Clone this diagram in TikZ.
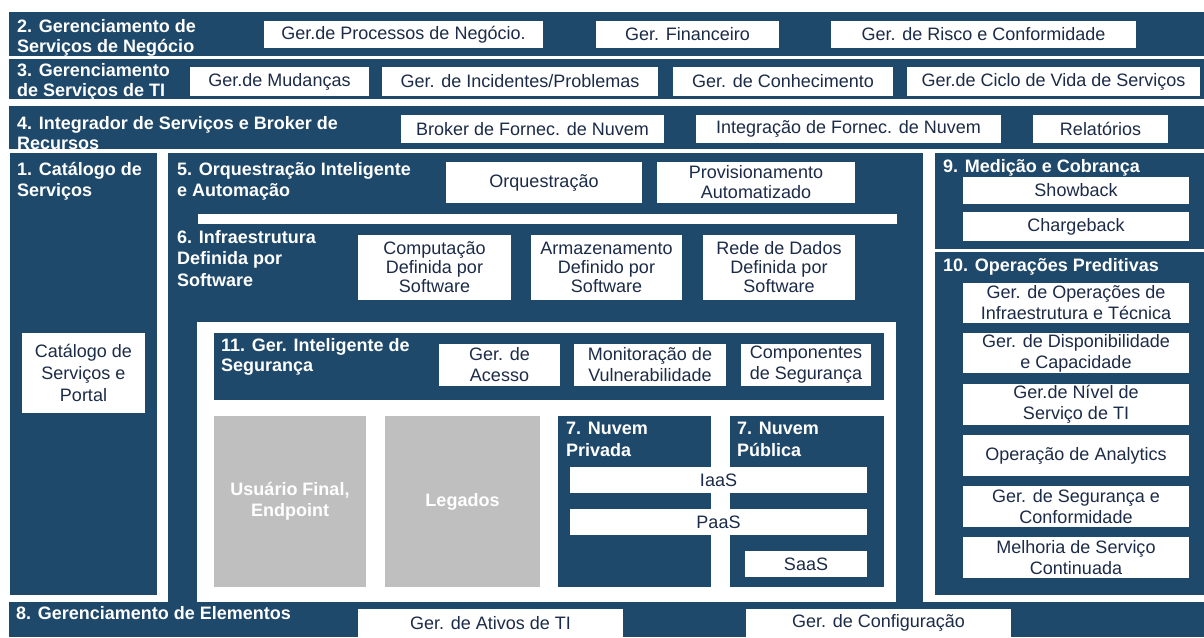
\documentclass[tikz,border=0pt]{standalone}
\usepackage{fontspec}
\setmainfont{Liberation Sans}

\definecolor{navy}{HTML}{1F496B}
\definecolor{itemtext}{HTML}{1C2B47}
\definecolor{graybox}{HTML}{BFBFBF}

\begin{document}
\begin{tikzpicture}[x=1pt,y=-1pt]

        \tikzset{layer/.style = {rectangle, fill=navy, inner sep=0pt}, }
        \tikzset{item/.style = {rectangle, fill=white, text=itemtext, align=center, inner sep=0pt, font=\fontsize{18}{20}\selectfont}, }
        \tikzset{title/.style = {anchor=north west, text=white, align=left, inner sep=0pt, font=\fontsize{18}{20}\selectfont\bfseries}, }
        \tikzset{oldsys/.style = {rectangle, fill=graybox, text=white, align=center, inner sep=0pt, font=\fontsize{18}{21}\selectfont\bfseries}, }
        \tikzset{wh/.style 2 args = {minimum width=#1pt, minimum height=#2pt}, }

        \useasboundingbox (0,0) rectangle (1204,637);

        % layers
        \node[layer, wh={1195}{44}] (L2) at (606.5,34) {};
        \node[layer, wh={1195}{40}] (L3) at (606.5,79) {};
        \node[layer, wh={1195}{43}] (L4) at (606.5,127.5) {};
        \node[layer, wh={147}{442}] (L1) at (83.5,374) {};
        \node[layer, wh={755}{449}] (L56) at (545.5,377.5) {};
        \node[layer, wh={269}{96}] (L9) at (1069.5,201) {};
        \node[layer, wh={269}{343}] (L10) at (1069.5,423.5) {};
        \node[layer, wh={1195}{35}] (L8) at (606.5,619.5) {};

        % 2
        \node[title] (T2) at (17,19) {2. Gerenciamento de\\Serviços de Negócio};
        \node[item, wh={279}{27}] (BPN) at (403.5,34.5) {Ger.de Processos de Negócio.};
        \node[item, wh={183}{27}] (GFin) at (687.5,34.5) {Ger. Financeiro};
        \node[item, wh={305}{27}] (GRisco) at (983.5,34.5) {Ger. de Risco e Conformidade};

        % 3
        \node[title] (T3) at (17,63) {3. Gerenciamento\\de Serviços de TI};
        \node[item, wh={179}{29}] (GMud) at (279.5,81.5) {Ger.de Mudanças};
        \node[item, wh={276}{29}] (GInc) at (520,81.5) {Ger. de Incidentes/Problemas};
        \node[item, wh={220}{29}] (GCon) at (783,81.5) {Ger. de Conhecimento};
        \node[item, wh={293}{29}] (GCiclo) at (1053.5,81.5) {Ger.de Ciclo de Vida de Serviços};

        % 4
        \node[title] (T4) at (17,116) {4. Integrador de Serviços e Broker de\\Recursos};
        \node[item, wh={263}{28}] (Broker) at (532.5,129) {Broker de Fornec. de Nuvem};
        \node[item, wh={305}{28}] (Integ) at (848.5,129) {Integração de Fornec. de Nuvem};
        \node[item, wh={135}{28}] (Rel) at (1100.5,129) {Relatórios};

        % 1
        \node[title, font=\fontsize{18}{21}\selectfont\bfseries] (T1) at (17,162) {1. Catálogo de\\Serviços};
        \node[item, wh={123}{80}, font=\fontsize{18}{22}\selectfont] (Cat) at (83.5,373) {Catálogo de\\Serviços e\\Portal};

        % 5 e 6
        \node[title, font=\fontsize{18}{21}\selectfont\bfseries] (T5) at (177,162) {5. Orquestração Inteligente\\e Automação};
        \node[item, wh={196}{41}] (Orq) at (544,182.5) {Orquestração};
        \node[item, wh={198}{41}] (Prov) at (756,182.5) {Provisionamento\\Automatizado};
        \node[fill=white, inner sep=0pt, wh={699}{10}] (bar56) at (547.5,219) {};
        \node[title, font=\fontsize{18}{21.5}\selectfont\bfseries] (T6) at (177,230) {6. Infraestrutura\\Definida por\\Software};
        \node[item, wh={153}{65}, font=\fontsize{18}{19}\selectfont] (SDC) at (434.5,267.5) {Computação\\Definida por\\Software};
        \node[item, wh={151}{65}, font=\fontsize{18}{19}\selectfont] (SDS) at (606.5,267.5) {Armazenamento\\Definido por\\Software};
        \node[item, wh={152}{65}, font=\fontsize{18}{19}\selectfont] (SDN) at (779,267.5) {Rede de Dados\\Definida por\\Software};
        \node[fill=white, inner sep=0pt, wh={699}{280}] (frame6) at (546.5,462) {};

        % 11
        \node[layer, wh={670}{67}] (L11) at (549,366.5) {};
        \node[title] (T11) at (221,338) {11. Ger. Inteligente de\\Segurança};
        \node[item, wh={121}{42}, font=\fontsize{18}{21}\selectfont] (Acesso) at (499.5,365) {Ger. de\\Acesso};
        \node[item, wh={152}{42}, font=\fontsize{18}{21}\selectfont] (Vuln) at (650,365) {Monitoração de\\Vulnerabilidade};
        \node[item, wh={130}{42}, font=\fontsize{18}{21}\selectfont] (CompSeg) at (806,365) {Componentes\\de Segurança};

        % legados e nuvens
        \node[oldsys, wh={152}{171}] (User) at (290,501.5) {Usuário Final,\\Endpoint};
        \node[oldsys, wh={155}{171}] (Leg) at (462.5,501.5) {Legados};
        \node[layer, wh={153}{171}] (L7a) at (634.5,501.5) {};
        \node[layer, wh={154}{171}] (L7b) at (807,501.5) {};
        \node[title, font=\fontsize{18}{22}\selectfont\bfseries] (T7a) at (566,422) {7. Nuvem\\Privada};
        \node[title, font=\fontsize{18}{22}\selectfont\bfseries] (T7b) at (737,422) {7. Nuvem\\Pública};
        \node[item, wh={297}{26}] (IaaS) at (718.5,480) {IaaS};
        \node[item, wh={297}{26}] (PaaS) at (718.5,522) {PaaS};
        \node[item, wh={122}{26}] (SaaS) at (806,564) {SaaS};

        % 9
        \node[title] (T9) at (943,159) {9. Medição e Cobrança};
        \node[item, wh={226}{27}] (Show) at (1076,190.5) {Showback};
        \node[item, wh={226}{29}] (Charge) at (1076,226.5) {Chargeback};

        % 10
        \node[title] (T10) at (943,258) {10. Operações Preditivas};
        \node[item, wh={226}{40}, font=\fontsize{18}{21}\selectfont] (OpInf) at (1076,303) {Ger. de Operações de\\Infraestrutura e Técnica};
        \node[item, wh={226}{40}, font=\fontsize{18}{21}\selectfont] (Disp) at (1076,353) {Ger. de Disponibilidade\\e Capacidade};
        \node[item, wh={226}{41}, font=\fontsize{18}{21}\selectfont] (SLA) at (1076,404.5) {Ger.de Nível de\\Serviço de TI};
        \node[item, wh={226}{41}] (Analytics) at (1076,455.5) {Operação de Analytics};
        \node[item, wh={226}{41}, font=\fontsize{18}{21}\selectfont] (SegConf) at (1076,506.5) {Ger. de Segurança e\\Conformidade};
        \node[item, wh={226}{41}, font=\fontsize{18}{21}\selectfont] (Melh) at (1076,557.5) {Melhoria de Serviço\\Continuada};

        % 8
        \node[title] (T8) at (16,606) {8. Gerenciamento de Elementos};
        \node[item, wh={265}{28}] (Ativos) at (490.5,623) {Ger. de Ativos de TI};
        \node[item, wh={265}{28}] (Config) at (878.5,623) {Ger. de Configuração};

\end{tikzpicture}
\end{document}
